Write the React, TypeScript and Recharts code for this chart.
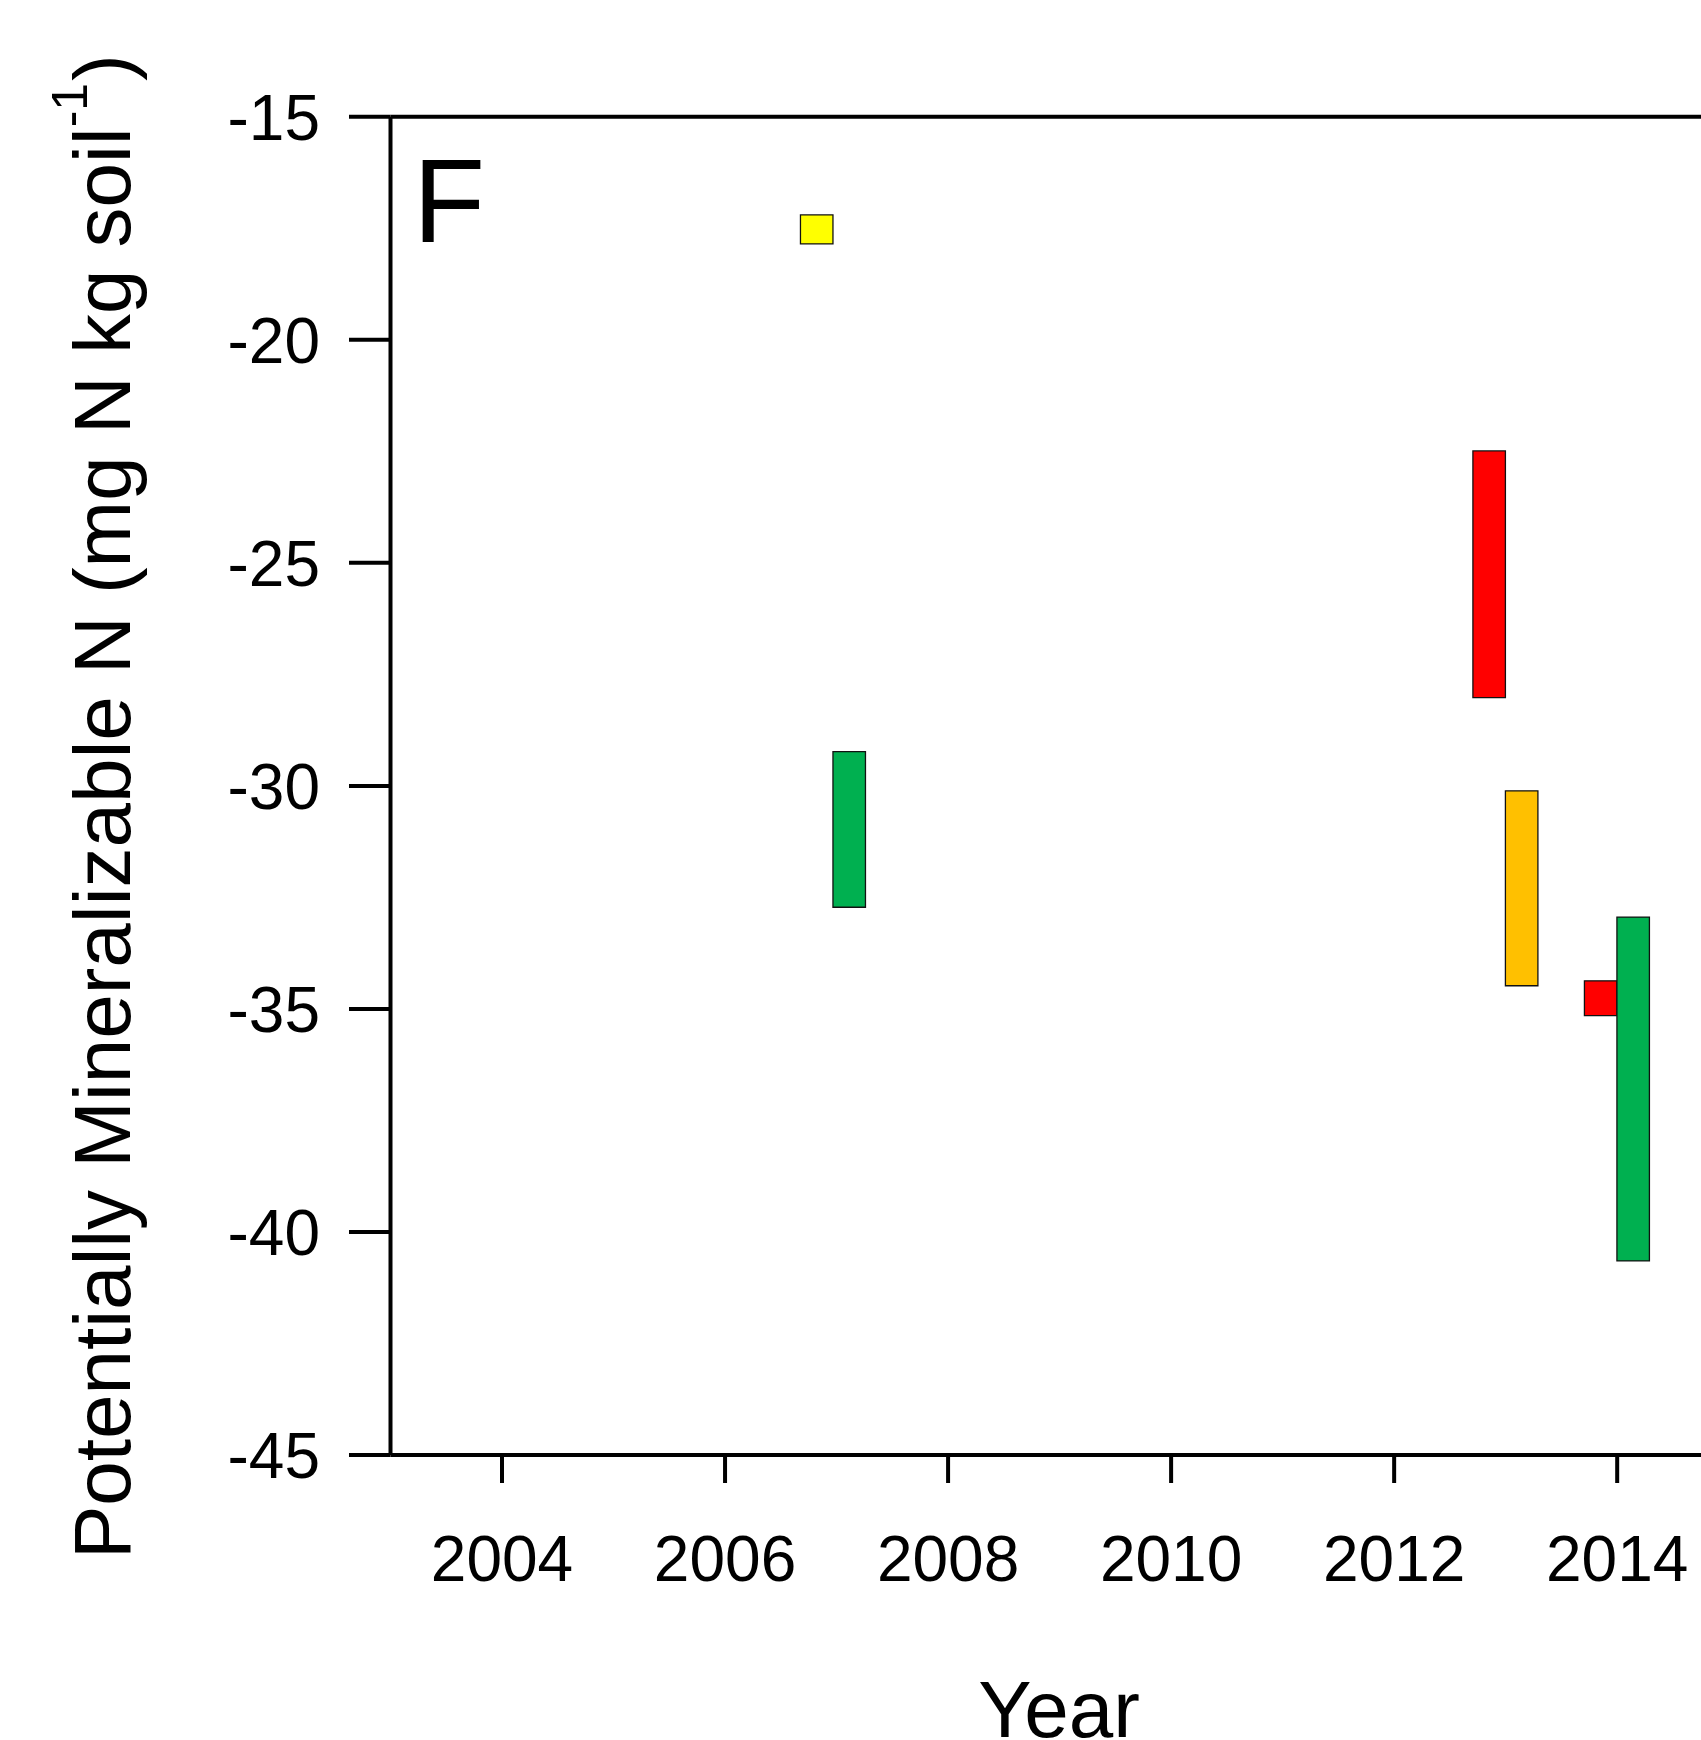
import React from "react";
import { ComposedChart, Bar, XAxis, YAxis, Cell } from "recharts";

// ---- data ----
const groupYears = [2006.97, 2013, 2014];
const leftLow = [-17.85, -28.02, -35.15];
const leftHigh = [-17.2, -22.49, -34.37];
const leftColors = ["#FFFF00", "#FF0000", "#FF0000"];
const rightLow = [-32.72, -34.48, -40.65];
const rightHigh = [-29.23, -30.11, -32.94];
const rightColors = ["#00B050", "#FFC000", "#00B050"];

const xTicks = [2004, 2006, 2008, 2010, 2012, 2014];
const yTicks = [-45, -40, -35, -30, -25, -20, -15];
const xDomain = [2003, 2015];
const yDomain = [-45, -15];

const data = groupYears.map((year, i) => ({
  year,
  left: [leftLow[i], leftHigh[i]],
  right: [rightLow[i], rightHigh[i]],
}));

const FONT = "'Liberation Sans', Arial, sans-serif";

const YLabel = () => (
  <text
    x={130}
    y={1559}
    transform="rotate(-90 130 1559)"
    fontSize={80}
    fontFamily={FONT}
    fill="#000"
  >
    Potentially Mineralizable N (mg N kg soil
    <tspan dy={-43} fontSize={50}>
      -1
    </tspan>
    <tspan dy={43} dx={2}>
      )
    </tspan>
  </text>
);

const XLabel = () => (
  <text x={1059} y={1737} textAnchor="middle" fontSize={80} fontFamily={FONT} fill="#000">
    Year
  </text>
);

const PanelLabel = () => (
  <text x={413} y={241.7} fontSize={118} fontFamily={FONT} fill="#000">
    F
  </text>
);

export default function App() {
  return (
    <div
      style={{
        position: "fixed",
        left: 0,
        top: 0,
        width: 1701,
        height: 1740,
        overflow: "hidden",
        background: "#fff",
      }}
    >
      <ComposedChart
        width={1800}
        height={1800}
        data={data}
        margin={{ top: 115.8, right: 71.3, bottom: 45, left: 0 }}
        barGap={0}
      >
        <XAxis
          xAxisId="top"
          orientation="top"
          type="number"
          dataKey="year"
          domain={xDomain}
          allowDataOverflow
          height={1}
          tick={false}
          tickLine={false}
          axisLine={{ stroke: "#000", strokeWidth: 4 }}
          label={<PanelLabel />}
        />
        <XAxis
          xAxisId={0}
          type="number"
          dataKey="year"
          domain={xDomain}
          allowDataOverflow
          ticks={xTicks}
          interval={0}
          height={300}
          tickSize={28}
          tickMargin={53}
          axisLine={{ stroke: "#000", strokeWidth: 4 }}
          tickLine={{ stroke: "#000", strokeWidth: 4 }}
          tick={{ fill: "#000", fontSize: 64, fontFamily: FONT }}
          label={<XLabel />}
        />
        <YAxis
          type="number"
          domain={yDomain}
          allowDataOverflow
          ticks={yTicks}
          interval={0}
          width={390.5}
          tickSize={41.5}
          tickMargin={29}
          axisLine={{ stroke: "#000", strokeWidth: 4 }}
          tickLine={{ stroke: "#000", strokeWidth: 4 }}
          tick={{ fill: "#000", fontSize: 64, fontFamily: FONT }}
          label={<YLabel />}
        />
        <Bar dataKey="left" barSize={32.5} stroke="#111" strokeWidth={1.3} isAnimationActive={false}>
          {data.map((d, i) => (
            <Cell key={`l${i}`} fill={leftColors[i]} />
          ))}
        </Bar>
        <Bar dataKey="right" barSize={32.5} stroke="#111" strokeWidth={1.3} isAnimationActive={false}>
          {data.map((d, i) => (
            <Cell key={`r${i}`} fill={rightColors[i]} />
          ))}
        </Bar>
      </ComposedChart>
    </div>
  );
}
